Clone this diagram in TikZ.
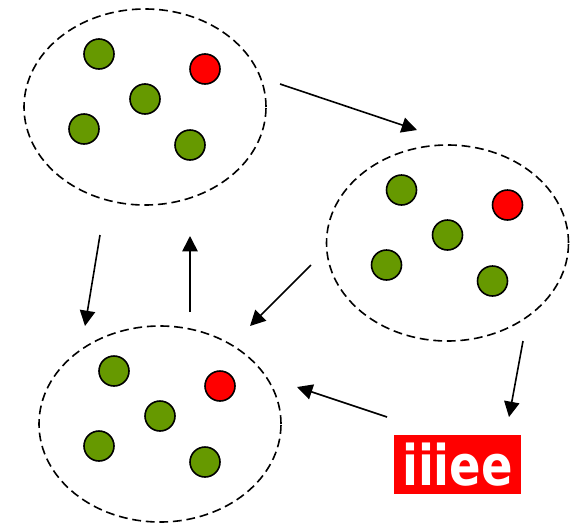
\documentclass[tikz,border=0pt]{standalone}
\usepackage{fontspec}
\newfontfamily\logofont[FakeStretch=0.83]{DejaVu Sans Bold}
\usetikzlibrary{arrows.meta}
\usetikzlibrary{shapes.geometric}
\tikzstyle{cluster} = [ellipse, minimum width=181.5pt, minimum height=147pt, inner sep=0pt, draw=black, dash pattern=on 6.6pt off 3.6pt, line width=1.2pt]
\tikzstyle{good} = [circle, minimum size=22.5pt, inner sep=0pt, fill={rgb,255:red,102;green,153;blue,0}, draw=black, line width=1.2pt]
\tikzstyle{bad} = [circle, minimum size=22.5pt, inner sep=0pt, fill=red, draw=black, line width=1.2pt]
\tikzstyle{arrow} = [line width=1.2pt,-{Triangle[length=11.5pt,width=11.5pt]}]
\newcommand{\balls}[2]{%
\node (#1 a) [good] at (#2) [xshift=-34.5pt, yshift=39.75pt] {};
\node (#1 b) [bad] at (#2) [xshift=45pt, yshift=28.5pt] {};
\node (#1 c) [good] at (#2) [xshift=0pt, yshift=6pt] {};
\node (#1 d) [good] at (#2) [xshift=-45.75pt, yshift=-16.5pt] {};
\node (#1 e) [good] at (#2) [xshift=33.75pt, yshift=-28.5pt] {};
}
\begin{document}
\begin{tikzpicture}[x=0.75pt,y=-0.75pt]
\useasboundingbox (0,0) rectangle (577,525);
\node (left) [cluster] at (145,107) {};
\node (right) [cluster] at (447.5,243) {};
\node (bottom) [cluster] at (160,424) {};
\balls{left}{left}
\balls{right}{right}
\balls{bottom}{bottom}

\node (logo) [rectangle, fill=red, text=white, minimum width=95.25pt, minimum height=44.25pt, inner sep=0pt, font=\logofont\fontsize{42}{42}\selectfont] at (457.5,464.5) {iiiee};

\coordinate (a1) at (280,84);
\coordinate (a2) at (417,130);
\coordinate (b1) at (311,265);
\coordinate (b2) at (250,326);
\coordinate (c1) at (523,341);
\coordinate (c2) at (509,417);
\coordinate (d1) at (387,417);
\coordinate (d2) at (297,387);
\coordinate (e1) at (190,312);
\coordinate (e2) at (190,236);
\coordinate (f1) at (100,235);
\coordinate (f2) at (85,326);

\draw [arrow] (a1) -- (a2);
\draw [arrow] (b1) -- (b2);
\draw [arrow] (c1) -- (c2);
\draw [arrow] (d1) -- (d2);
\draw [arrow] (e1) -- (e2);
\draw [arrow] (f1) -- (f2);
\end{tikzpicture}
\end{document}
